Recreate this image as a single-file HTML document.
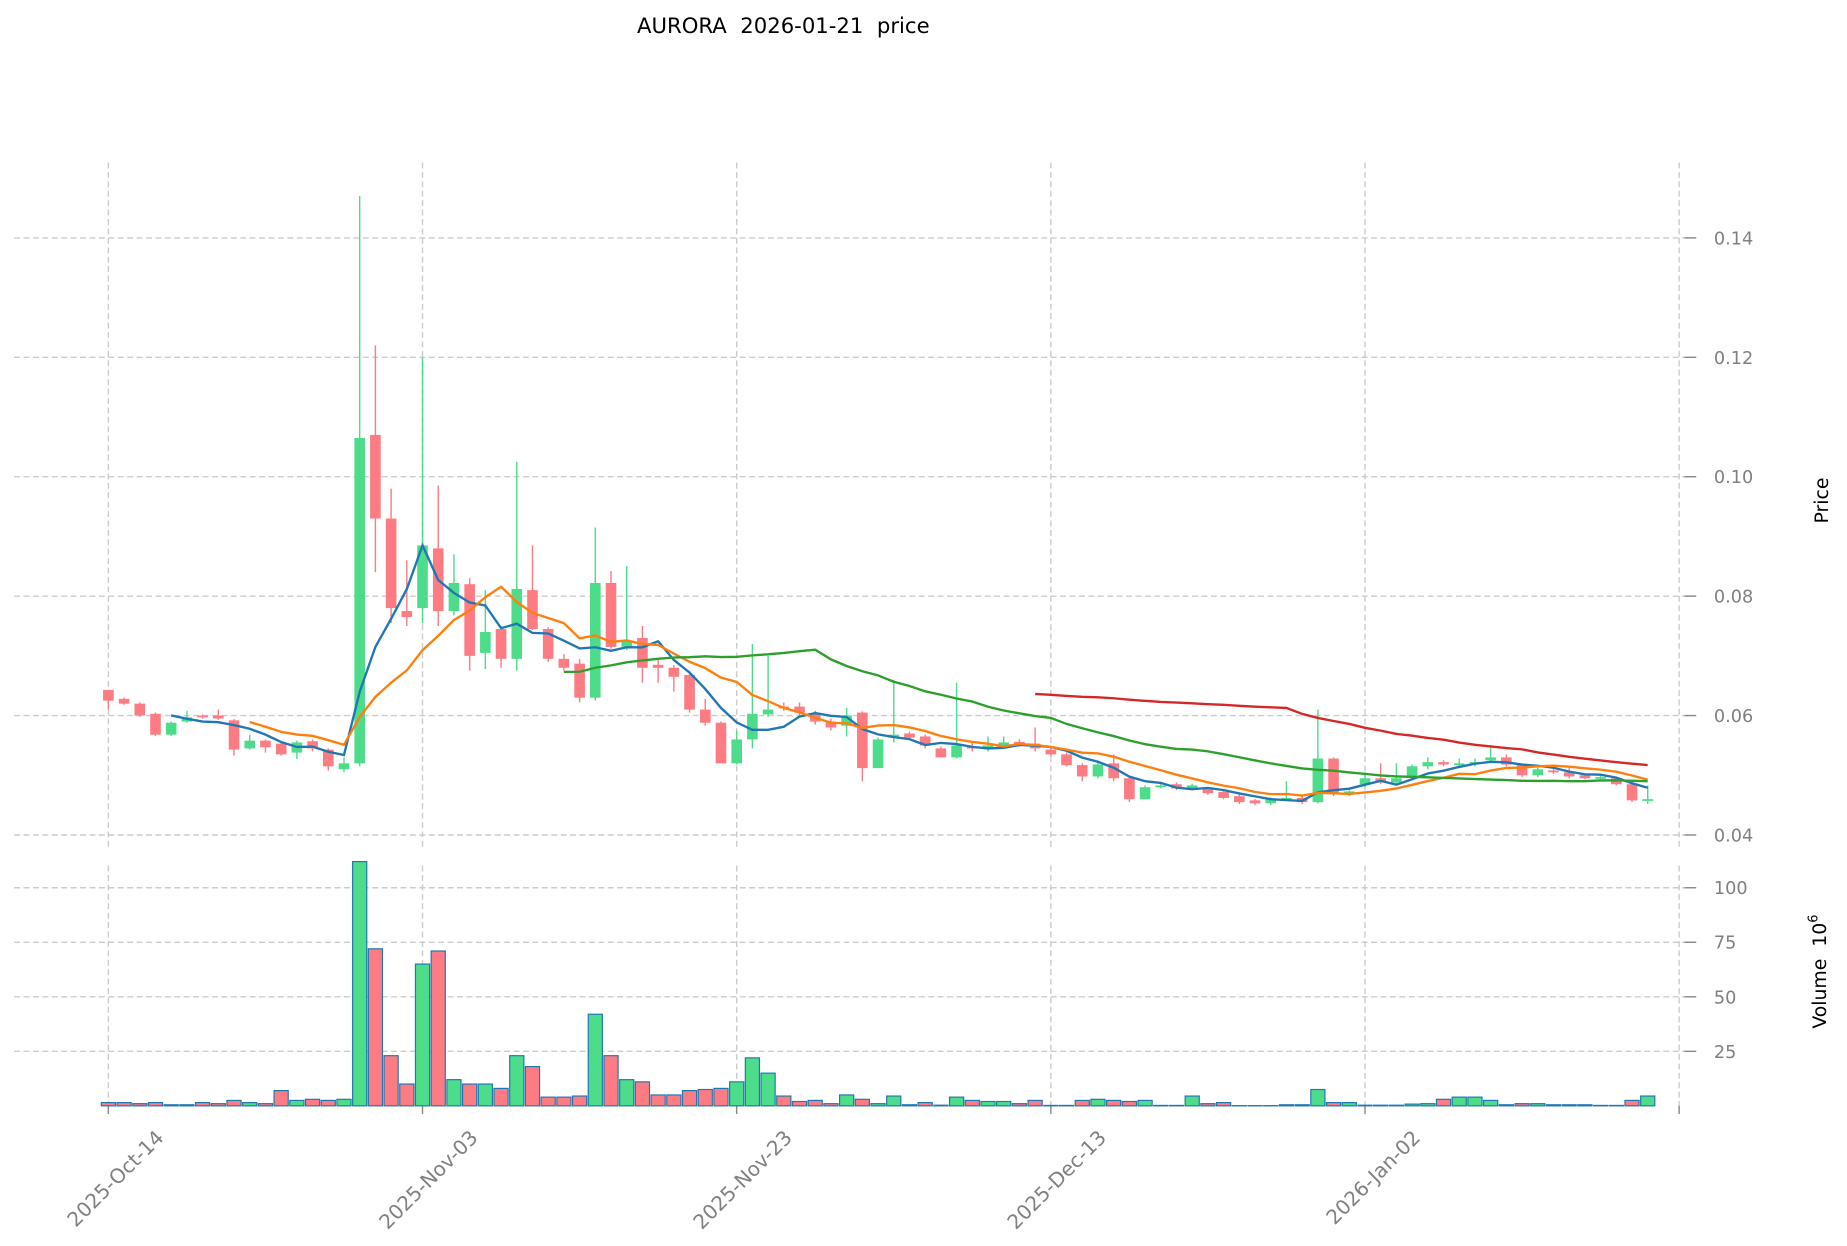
<!DOCTYPE html>
<html><head><meta charset="utf-8"><style>
html,body{margin:0;padding:0;background:#fff;}
svg{display:block;}
text{font-family:"DejaVu Sans","Liberation Sans",sans-serif;}
</style></head><body>
<svg id="c" width="1847" height="1246" viewBox="0 0 1568 1058" preserveAspectRatio="none" xmlns="http://www.w3.org/2000/svg">
<text x="665" y="28" text-anchor="middle" font-size="18" fill="#000">AURORA&#160;&#160;2026-01-21&#160;&#160;price</text>
<g id="g"></g>
</svg>
<script>
const C=[[0.0643,0.0625,0.0643,0.061],[0.0628,0.0620,0.063,0.0618],[0.062,0.060,0.0622,0.0598],[0.0603,0.0568,0.0605,0.0566],[0.0568,0.0588,0.059,0.0566],[0.0590,0.0597,0.0608,0.0588],[0.0600,0.0597,0.0602,0.0595],[0.0600,0.0595,0.061,0.0593],[0.0592,0.0543,0.0594,0.0533],[0.0545,0.0558,0.0568,0.0543],[0.0558,0.0547,0.056,0.0538],[0.0553,0.0535,0.0555,0.0533],[0.0538,0.0555,0.0558,0.0527],[0.0557,0.0545,0.056,0.054],[0.0543,0.0515,0.0545,0.0508],[0.0510,0.0520,0.053,0.0505],[0.0520,0.1065,0.147,0.0515],[0.107,0.093,0.122,0.084],[0.093,0.078,0.098,0.0755],[0.0775,0.0765,0.086,0.075],[0.078,0.0885,0.12,0.0755],[0.088,0.0775,0.0985,0.075],[0.0775,0.0822,0.087,0.0768],[0.082,0.070,0.083,0.0675],[0.0705,0.074,0.081,0.0678],[0.0745,0.0695,0.075,0.068],[0.0695,0.0812,0.1025,0.0675],[0.081,0.0745,0.0885,0.0743],[0.0745,0.0695,0.0748,0.069],[0.0695,0.068,0.0703,0.0675],[0.0687,0.063,0.0695,0.0622],[0.063,0.0822,0.0915,0.0625],[0.0822,0.0715,0.0842,0.0712],[0.0715,0.0725,0.085,0.071],[0.073,0.068,0.075,0.0655],[0.0685,0.068,0.0695,0.0655],[0.068,0.0665,0.0685,0.064],[0.0668,0.061,0.0675,0.0605],[0.061,0.0588,0.0628,0.0583],[0.0588,0.052,0.059,0.052],[0.052,0.056,0.0575,0.0518],[0.056,0.0603,0.072,0.0545],[0.0602,0.061,0.070,0.0598],[0.0615,0.0613,0.0622,0.0608],[0.0615,0.0605,0.0622,0.0598],[0.0602,0.059,0.0608,0.0585],[0.0590,0.058,0.0595,0.0575],[0.0583,0.060,0.0613,0.0565],[0.0605,0.0512,0.0607,0.049],[0.0512,0.056,0.0563,0.0512],[0.0563,0.0568,0.066,0.0555],[0.057,0.0563,0.0573,0.056],[0.0565,0.055,0.0568,0.0545],[0.0545,0.053,0.0548,0.053],[0.053,0.055,0.0655,0.0528],[0.0548,0.0545,0.0555,0.054],[0.0545,0.055,0.0565,0.054],[0.055,0.0555,0.0565,0.0545],[0.0556,0.0553,0.056,0.0548],[0.0553,0.0545,0.058,0.054],[0.0543,0.0535,0.0547,0.0532],[0.0535,0.0517,0.0538,0.0515],[0.0517,0.0498,0.052,0.049],[0.0498,0.0518,0.0525,0.0495],[0.052,0.0495,0.0535,0.049],[0.0495,0.046,0.0498,0.0455],[0.046,0.048,0.0483,0.046],[0.048,0.0483,0.0486,0.0478],[0.0485,0.0478,0.0488,0.0475],[0.0478,0.0483,0.0486,0.0475],[0.0478,0.047,0.048,0.0467],[0.0472,0.0462,0.0475,0.046],[0.0465,0.0455,0.0468,0.0452],[0.0458,0.0453,0.046,0.045],[0.0453,0.046,0.0463,0.045],[0.046,0.0462,0.049,0.0458],[0.0462,0.0455,0.0465,0.0452],[0.0455,0.0528,0.061,0.0453],[0.0528,0.047,0.053,0.0465],[0.047,0.0473,0.0475,0.0465],[0.0485,0.0495,0.0505,0.048],[0.0495,0.0488,0.052,0.0485],[0.0488,0.0495,0.052,0.0485],[0.0498,0.0515,0.0518,0.0495],[0.0515,0.0522,0.053,0.051],[0.0522,0.0518,0.0525,0.0515],[0.0518,0.052,0.0528,0.0512],[0.052,0.0522,0.0528,0.0515],[0.0525,0.053,0.055,0.052],[0.053,0.0518,0.0535,0.0515],[0.0518,0.050,0.052,0.0497],[0.050,0.051,0.0513,0.0497],[0.0508,0.0505,0.0512,0.0502],[0.0505,0.0498,0.0515,0.0495],[0.050,0.0495,0.0502,0.0493],[0.0495,0.0497,0.0499,0.0493],[0.0495,0.0485,0.0497,0.0483],[0.0485,0.0458,0.0487,0.0455],[0.0458,0.046,0.0483,0.0452]];
const V=[1.5,1.5,1,1.5,0.5,0.5,1.5,1,2.5,1.5,1,7,2.5,3,2.5,3,112,72,23,10,65,71,12,10,10,8,23,18,4,4,4.5,42,23,12,11,5,5,7,7.5,8,11,22,15,4.5,2,2.5,1,5,3,1,4.5,0.5,1.5,0.3,4,2.5,2,2,1,2.5,0.2,0.2,2.5,3,2.5,2,2.5,0.2,0.2,4.5,1,1.5,0.1,0.1,0.1,0.5,0.5,7.5,1.5,1.5,0.3,0.3,0.3,0.8,1,3,4,4,2.5,0.5,1,1,0.5,0.5,0.5,0.2,0.2,2.5,4.5];
const X=i=>92+13.335*i, Y=p=>709-(p-0.04)*5070, VY=v=>939-v*1.852;
let s='';
const G='stroke="#cccccc" stroke-width="1.2" stroke-dasharray="5,3"';
for(let k=0;k<6;k++){const p=0.04+k*0.02,y=Y(p);s+=`<line x1="12" x2="1430" y1="${y}" y2="${y}" ${G}/><line x1="1430" x2="1440" y1="${y}" y2="${y}" stroke="#888" stroke-width="1.2"/><text x="1455" y="${y+5.5}" font-size="15" fill="#808080">${p.toFixed(2)}</text>`;}
for(const v of [25,50,75,100]){const y=VY(v);s+=`<line x1="12" x2="1430" y1="${y}" y2="${y}" ${G}/><line x1="1430" x2="1440" y1="${y}" y2="${y}" stroke="#888" stroke-width="1.2"/><text x="1455" y="${y+5.5}" font-size="15" fill="#808080">${v}</text>`;}
const dl=['2025-Oct-14','2025-Nov-03','2025-Nov-23','2025-Dec-13','2026-Jan-02',''];
dl.forEach((d,k)=>{const x=92+266.7*k;s+=`<line x1="${x}" x2="${x}" y1="138" y2="720" ${G}/><line x1="${x}" x2="${x}" y1="735" y2="939" ${G}/><line x1="${x}" x2="${x}" y1="939" y2="946" stroke="#888" stroke-width="1.2"/>`;
if(d)s+=`<text transform="translate(${x+48},${967}) rotate(-45)" text-anchor="end" font-size="17" fill="#808080">${d}</text>`;});
s+=`<text transform="translate(1552,425) rotate(-90)" text-anchor="middle" font-size="16" fill="#000">Price</text>`;
s+=`<text transform="translate(1550,825) rotate(-90)" text-anchor="middle" font-size="16" fill="#000">Volume&#160;&#160;10<tspan dy="-7" font-size="11">6</tspan></text>`;
const GR='#4ddc89',RD='#fd7b82';
C.forEach((c,i)=>{const [o,cl,h,l]=c,x=X(i),col=cl>=o?GR:RD;const t=Y(Math.max(o,cl)),b=Y(Math.min(o,cl));
s+=`<line x1="${x}" x2="${x}" y1="${Y(h)}" y2="${Y(l)}" stroke="${col}" stroke-width="1.2"/><rect x="${x-4.5}" y="${t}" width="9" height="${Math.max(b-t,1.5)}" fill="${col}"/>`;
const vy=VY(V[i]);s+=`<rect x="${x-6}" y="${vy}" width="12" height="${939-vy}" fill="${col}" stroke="#1f77b4" stroke-width="1"/>`;});
function ma(n,col){let pts=[];for(let i=n-1;i<C.length;i++){let t=0;for(let j=i-n+1;j<=i;j++)t+=C[j][1];pts.push(X(i).toFixed(1)+','+Y(t/n).toFixed(1));}
s+=`<polyline points="${pts.join(' ')}" fill="none" stroke="${col}" stroke-width="2"/>`;}
ma(5,'#1f77b4');ma(10,'#ff7f0e');ma(30,'#2ca02c');ma(60,'#d62728');
document.getElementById('g').innerHTML=s;
</script>
</body></html>
